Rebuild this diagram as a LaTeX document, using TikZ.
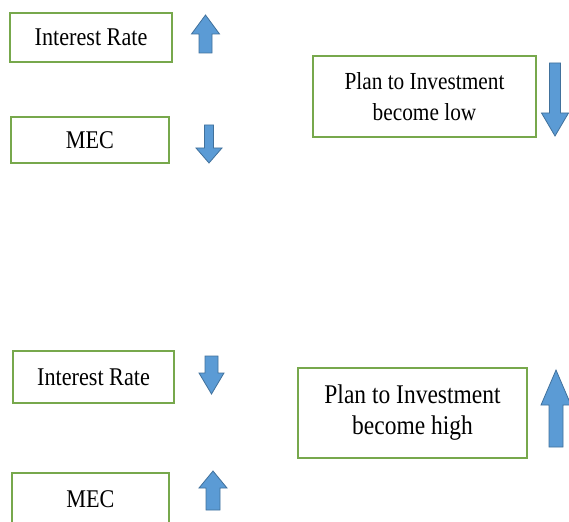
\documentclass[tikz,border=0pt]{standalone}
\usepackage{fontspec}
\setmainfont{Liberation Serif}[FakeStretch=0.87]
\definecolor{boxgreen}{RGB}{119,168,76}
\definecolor{arrfill}{RGB}{91,155,213}
\definecolor{arrline}{RGB}{65,113,156}
\tikzset{
  gbox/.style={draw=boxgreen, line width=2.5pt, fill=white, rectangle, inner sep=0pt, align=center},
  barrow/.style={fill=arrfill, draw=arrline, line width=0.8pt, line join=miter}
}
% cx, tip y, head-base y, end y, head half width, shaft half width
\newcommand{\bkarrow}[6]{%
  \draw[barrow] (#1,#2) -- (#1+#5,#3) -- (#1+#6,#3) -- (#1+#6,#4) -- (#1-#6,#4) -- (#1-#6,#3) -- (#1-#5,#3) -- cycle;}
\begin{document}
\begin{tikzpicture}[x=1pt,y=-1pt]
\clip (0,0) rectangle (569,521);
\fill[white] (0,0) rectangle (569,521);
% top group
\node[gbox, minimum width=162pt, minimum height=49pt, font=\fontsize{25.5}{30}\selectfont] (ir1) at (91,37.5) {Interest Rate};
\node[gbox, minimum width=158pt, minimum height=46pt, font=\fontsize{25.5}{30}\selectfont] (mec1) at (90,140) {MEC};
\node[gbox, minimum width=223pt, minimum height=81pt, font=\fontsize{24.5}{31}\selectfont] (plan1) at (424.5,96.5) {Plan to Investment\\become low};
% bottom group
\node[gbox, minimum width=161pt, minimum height=52pt, font=\fontsize{25.5}{30}\selectfont] (ir2) at (93.5,377) {Interest Rate};
\node[gbox, minimum width=157pt, minimum height=52pt, font=\fontsize{25.5}{30}\selectfont] (mec2) at (90.5,499) {MEC};
\node[gbox, minimum width=229pt, minimum height=90pt, font=\fontsize{27}{31}\selectfont] (plan2) at (412.5,413) {Plan to Investment\\become high};
% block arrows
\bkarrow{205.5}{15}{34}{53}{14}{6.5}
\bkarrow{209}{163}{148}{125}{13}{4.5}
\bkarrow{555}{136}{113}{63}{13.5}{5.5}
\bkarrow{211.5}{394}{373}{356}{12.5}{6.5}
\bkarrow{213}{471}{488}{510}{14}{7}
\bkarrow{556}{370}{405}{447}{15}{7}
\end{tikzpicture}
\end{document}
